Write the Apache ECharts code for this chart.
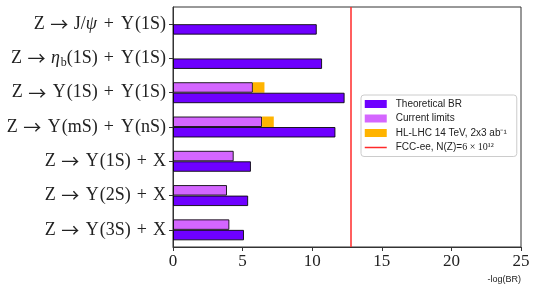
<!DOCTYPE html>
<html><head><meta charset="utf-8">
<script src="https://cdn.jsdelivr.net/npm/echarts@6/dist/echarts.min.js"></script>
<style>html,body{margin:0;padding:0;background:#fff}#c{width:539px;height:293px}</style>
</head><body><div id="c"></div>
<script>
const categories = ['Z → J/ψ + Υ(1S)', 'Z → ηb(1S) + Υ(1S)', 'Z → Υ(1S) + Υ(1S)', 'Z → Υ(mS) + Υ(nS)', 'Z → Υ(1S) + X', 'Z → Υ(2S) + X', 'Z → Υ(3S) + X'];
const theoretical = [10.33, 10.71, 12.33, 11.67, 5.6, 5.4, 5.1];
const currentLimits = [null, null, 5.74, 6.4, 4.36, 3.88, 4.05];
const hlLhc = [null, null, 6.57, 7.24, null, null, null];
const fccLimit = 12.78;
const xTicks = [0, 5, 10, 15, 20, 25];

const hlExtra = hlLhc.map((v, i) => v == null ? null : +(v - currentLimits[i]).toFixed(3));
const serif = '"Liberation Serif", "DejaVu Serif", serif';
const sans = '"Liberation Sans", Arial, sans-serif';
const edge = { borderColor: 'rgba(0,0,0,0.85)', borderWidth: 1 };

function fmtLabel(s) {
  return s.replace(' → ', '{ar|→}')
    .replace(/ \+ /g, '{op|+}')
    .replace(/Υ/g, '{u|Υ}')
    .replace('J/ψ', '{t|J/}{i|ψ}')
    .replace('ηb', '{i|η}{sub|b}')
    .replace(/^Z/, '{t|Z}');
}

const chart = echarts.init(document.getElementById('c'));
chart.setOption({
  animation: false,
  grid: { left: 173, right: 18, top: 7, bottom: 46, show: true, borderColor: '#333', borderWidth: 1 },
  xAxis: {
    type: 'value', min: 0, max: 25, interval: 5,
    splitLine: { show: false },
    axisLine: { show: true, lineStyle: { color: '#333' } },
    axisTick: { show: true, length: 4, lineStyle: { color: '#333' } },
    axisLabel: { margin: 6, fontFamily: serif, fontSize: 17, color: '#222',
      formatter: v => xTicks.includes(v) ? String(v) : '' }
  },
  yAxis: {
    type: 'category', inverse: true, data: categories,
    axisLine: { show: true, lineStyle: { color: '#333' } },
    axisTick: { show: true, alignWithLabel: true, length: 4, lineStyle: { color: '#333' } },
    axisLabel: {
      margin: 7, fontFamily: serif, fontSize: 18, color: '#222',
      formatter: fmtLabel,
      rich: {
        t: { fontFamily: serif, fontSize: 18, color: '#222' },
        u: { fontFamily: serif, fontSize: 18, color: '#222', padding: [0, 1, 0, 1] },
        i: { fontFamily: serif, fontSize: 18, fontStyle: 'italic', color: '#222', padding: [0, 1, 0, 0] },
        sub: { fontFamily: serif, fontSize: 12, color: '#222', padding: [8, 0, 0, 0] },
        ar: { fontFamily: '"Noto Sans CJK JP", "DejaVu Sans", sans-serif', fontSize: 18, color: '#222', padding: [0, 5.5, 0, 5.5] },
        op: { fontFamily: serif, fontSize: 18, color: '#222', padding: [0, 6, 0, 6] }
      }
    }
  },
  legend: {
    orient: 'vertical', left: 361, top: 95,
    padding: [4, 10, 4, 3], itemWidth: 22, itemHeight: 8, itemGap: 4.5,
    borderColor: '#ccc', borderWidth: 1, borderRadius: 3, backgroundColor: 'rgba(255,255,255,0.85)',
    textStyle: { fontFamily: sans, fontSize: 10, color: '#222', padding: [0, 0, 0, 4],
      rich: {
        a: { fontFamily: sans, fontSize: 10, color: '#222' },
        m: { fontFamily: serif, fontSize: 10, color: '#222' }
      } },
    formatter: n => n.startsWith('FCC-ee') ? '{a|FCC-ee, N(Z)=}{m|6 × 10¹²}' : n,
    data: [
      { name: 'Theoretical BR', icon: 'rect', itemStyle: { borderWidth: 0 } },
      { name: 'Current limits', icon: 'rect', itemStyle: { borderWidth: 0 } },
      { name: 'HL-LHC 14 TeV, 2x3 ab⁻¹', icon: 'rect', itemStyle: { borderWidth: 0 } },
      { name: 'FCC-ee, N(Z)=6 × 10¹²', itemStyle: { opacity: 0 }, lineStyle: { color: '#ff2a2a', width: 1.5 } }
    ]
  },
  graphic: [{ type: 'text', right: 18, top: 275, style: { text: '-log(BR)', font: '9px ' + sans, fill: '#222' } }],
  series: [
    { name: 'Current limits', type: 'bar', stack: 'lim', data: currentLimits, barWidth: 10.5, barGap: '0%',
      itemStyle: Object.assign({ color: '#d466ff' }, edge) },
    { name: 'HL-LHC 14 TeV, 2x3 ab⁻¹', type: 'bar', stack: 'lim', data: hlExtra, barWidth: 10.5, barGap: '0%',
      itemStyle: { color: '#ffb400' } },
    { name: 'Theoretical BR', type: 'bar', data: theoretical, barWidth: 10.5, barGap: '0%',
      itemStyle: Object.assign({ color: '#6e00ff' }, edge) },
    { name: 'FCC-ee, N(Z)=6 × 10¹²', type: 'line', data: [], symbol: 'none', showSymbol: false,
      color: '#ff2a2a', lineStyle: { color: '#ff2a2a', width: 1.5 },
      markLine: { silent: true, symbol: 'none', label: { show: false },
        lineStyle: { color: '#ff2a2a', width: 1.5, type: 'solid' },
        data: [{ xAxis: fccLimit }] } }
  ]
});
</script></body></html>
